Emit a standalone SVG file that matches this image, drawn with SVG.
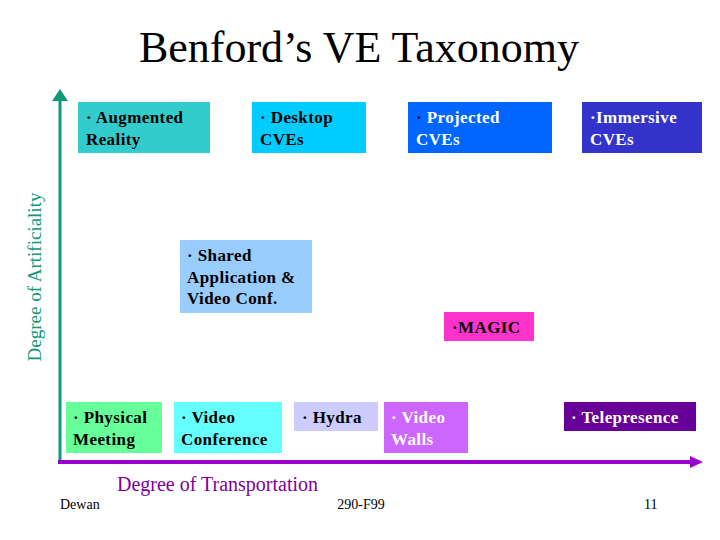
<svg xmlns="http://www.w3.org/2000/svg" width="720" height="540" viewBox="0 0 720 540">
<style>
text{font-family:"Liberation Serif","Times New Roman",serif}
.b{font-size:17px;font-weight:bold;fill:#000;letter-spacing:0.4px}
.w{font-size:17px;font-weight:bold;fill:#fff;letter-spacing:0.4px}
.f{font-size:14px;fill:#000}
</style>
<rect width="720" height="540" fill="#fff"/>
<text x="359" y="62" font-size="44" text-anchor="middle">Benford’s VE Taxonomy</text>
<g id="connectors">
<path d="M60,464 L60,100" stroke="#119977" stroke-width="3" fill="none"/>
<path d="M60,89 L52,101 L68,101 z" fill="#119977"/>
<path d="M58,462 L692,462" stroke="#9900CC" stroke-width="4" fill="none"/>
<path d="M703,462 L690,456 L690,468 z" fill="#9900CC"/>
</g>
<text transform="translate(41,277) rotate(-90)" font-size="19" fill="#119977" text-anchor="middle">Degree of Artificiality</text>
<text x="117" y="491" font-size="20" fill="#800099">Degree of Transportation</text>
<g id="augmented"><rect x="78" y="102" width="132" height="51" fill="#33CCCC"/><text class="b" x="86" y="123">· Augmented</text><text class="b" x="86" y="145">Reality</text></g>
<g id="desktop"><rect x="252" y="102" width="114" height="51" fill="#00CCFF"/><text class="b" x="260" y="123">· Desktop</text><text class="b" x="260" y="145">CVEs</text></g>
<g id="projected"><rect x="408" y="102" width="144" height="51" fill="#0066FF"/><text class="w" x="416" y="123"><tspan fill="#000033">·</tspan> Projected</text><text class="w" x="416" y="145">CVEs</text></g>
<g id="immersive"><rect x="582" y="102" width="120" height="51" fill="#3333CC"/><text class="w" x="590" y="123">·Immersive</text><text class="w" x="590" y="145">CVEs</text></g>
<g id="shared"><rect x="180" y="240" width="132" height="73" fill="#99CCFF"/><text class="b" x="187" y="261">· Shared</text><text class="b" x="187" y="283">Application &amp;</text><text class="b" x="187" y="304">Video Conf.</text></g>
<g id="magic"><rect x="444" y="312" width="90" height="29" fill="#FF33CC"/><text class="b" x="452" y="333" fill="#220022">·MAGIC</text></g>
<g id="physical"><rect x="66" y="402" width="96" height="51" fill="#66FF99"/><text class="b" x="73" y="423">· Physical</text><text class="b" x="73" y="445">Meeting</text></g>
<g id="videoconf"><rect x="174" y="402" width="108" height="51" fill="#66FFFF"/><text class="b" x="181" y="423">· Video</text><text class="b" x="181" y="445">Conference</text></g>
<g id="hydra"><rect x="294" y="402" width="84" height="29" fill="#CCCCFF"/><text class="b" x="302" y="423">· Hydra</text></g>
<g id="videowalls"><rect x="384" y="402" width="84" height="51" fill="#CC66FF"/><text class="w" x="391" y="423">· Video</text><text class="w" x="391" y="445">Walls</text></g>
<g id="telepresence"><rect x="564" y="402" width="132" height="29" fill="#660099"/><text class="w" x="571" y="423">· Telepresence</text></g>
<text class="f" x="60" y="509">Dewan</text>
<text class="f" x="361" y="509" text-anchor="middle">290-F99</text>
<text class="f" x="644" y="509">11</text>
</svg>
